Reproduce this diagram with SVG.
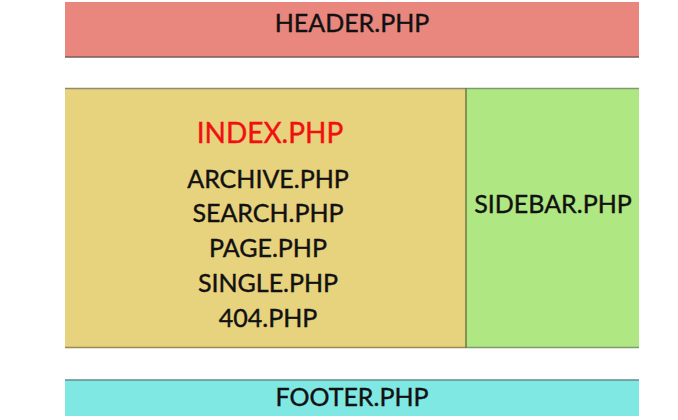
<svg xmlns="http://www.w3.org/2000/svg" width="678" height="420" viewBox="0 0 678 420">
<style>
text{font-family:Lato,"Open Sans","Liberation Sans",sans-serif;font-size:25px;fill:#111;stroke:#111;stroke-width:0.4;text-anchor:middle}
.edge{stroke-width:1.5;fill:none}
</style>
<rect width="678" height="420" fill="#fff"/>
<g id="header">
<rect x="65" y="2" width="574" height="55" fill="#E9877F"/>
<line class="edge" x1="65" y1="57" x2="639" y2="57" stroke="#7d5c55"/>
<text x="352" y="32">HEADER.PHP</text>
</g>
<g id="content">
<rect x="65" y="88" width="401" height="260" fill="#E7D27D"/>
<line class="edge" x1="65" y1="88.5" x2="466" y2="88.5" stroke="#8f8a70"/>
<line class="edge" x1="65" y1="347.5" x2="466" y2="347.5" stroke="#9a8a50"/>
<text x="270" y="143" style="fill:#f01010;stroke:#f01010;font-size:28px">INDEX.PHP</text>
<text x="268" y="188">ARCHIVE.PHP</text>
<text x="268" y="222">SEARCH.PHP</text>
<text x="268" y="257">PAGE.PHP</text>
<text x="268" y="292">SINGLE.PHP</text>
<text x="268" y="327">404.PHP</text>
</g>
<g id="sidebar">
<rect x="466" y="88" width="173" height="260" fill="#AFE882"/>
<line class="edge" x1="466" y1="88.5" x2="639" y2="88.5" stroke="#7f9a70"/>
<line class="edge" x1="466" y1="347.5" x2="639" y2="347.5" stroke="#7f9a70"/>
<line class="edge" x1="466" y1="88" x2="466" y2="348" stroke="#6f7a40"/>
<text x="553" y="213">SIDEBAR.PHP</text>
</g>
<g id="footer">
<rect x="65" y="380" width="574" height="36" fill="#7FE8E3"/>
<line class="edge" x1="65" y1="380" x2="639" y2="380" stroke="#5f8f90"/>
<text x="352" y="406">FOOTER.PHP</text>
</g>
<g id="connectors"></g>
</svg>
